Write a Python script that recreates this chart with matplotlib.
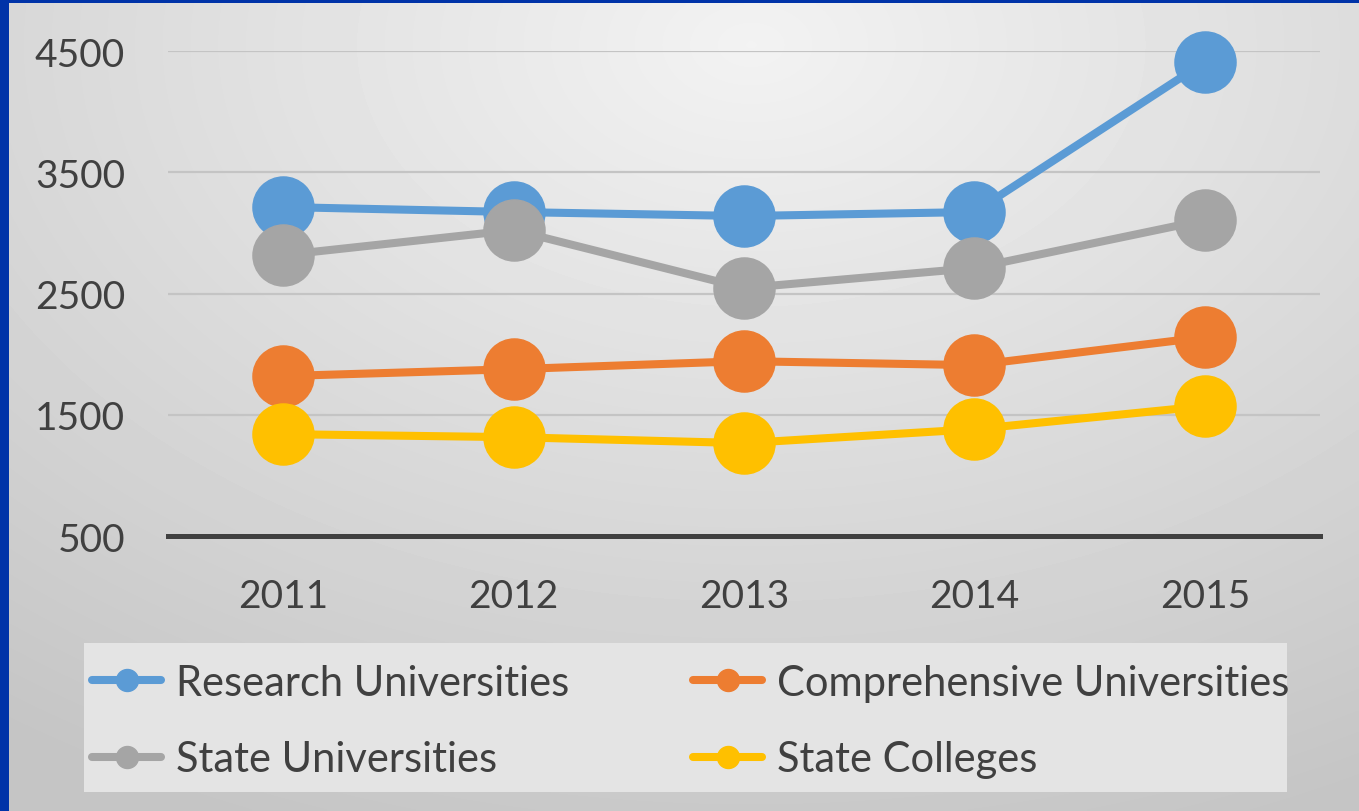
import numpy as np
import matplotlib
matplotlib.use("Agg")
import matplotlib.pyplot as plt
from matplotlib.patches import Rectangle

years = ["2011", "2012", "2013", "2014", "2015"]
research = [3213, 3172, 3139, 3172, 4409]
comprehensive = [1819, 1876, 1942, 1909, 2140]
state_univ = [2817, 3023, 2545, 2710, 3106]
state_colleges = [1340, 1315, 1266, 1381, 1571]

series = [
    ("Research Universities", research, "#5B9BD5"),
    ("Comprehensive Universities", comprehensive, "#ED7D31"),
    ("State Universities", state_univ, "#A5A5A5"),
    ("State Colleges", state_colleges, "#FFC000"),
]

plt.rcParams['font.family'] = ['Lato', 'DejaVu Sans']

W, H = 1359, 812
fig = plt.figure(figsize=(W / 100, H / 100), dpi=100, facecolor="#0033A8")

# gradient background
bg = fig.add_axes([9 / W, 0, 1 - 9 / W, 1 - 4 / H], zorder=-5)
gx, gy = np.meshgrid(np.linspace(0, 1, 400), np.linspace(0, 1, 240))
d = np.sqrt(((gx - 0.55) * 1.0) ** 2 + ((gy - 0.05) * 0.9) ** 2)
shade = 0.95 - 0.18 * np.clip(d / 0.95, 0, 1)
bg.imshow(shade, cmap="gray", vmin=0, vmax=1, aspect="auto",
          extent=[0, 1, 1, 0], interpolation="bilinear")
bg.axis("off")

# legend box
fig.patches.append(Rectangle((84 / W, 1 - 793 / H), (1287 - 84) / W, (793 - 644) / H,
                             transform=fig.transFigure, facecolor="#e4e4e4",
                             edgecolor="none", zorder=-4))

ax = fig.add_axes([168 / W, 1 - 537 / H, (1320 - 168) / W, (537 - 52) / H])
ax.patch.set_alpha(0)

x = np.arange(len(years))
lines = {}
for name, vals, col in series:
    ln, = ax.plot(x, vals, color=col, lw=5.8, marker="o", markersize=44,
                  label=name, clip_on=False, solid_capstyle="round", zorder=3)
    lines[name] = ln

ax.set_xlim(-0.5, 4.5)
ax.set_ylim(500, 4500)
ax.set_yticks([500, 1500, 2500, 3500, 4500])
ax.set_xticks(x)
ax.set_xticklabels(years)
ax.yaxis.grid(True, color="#c4c4c4", lw=1.6)
ax.set_axisbelow(True)
for s in ["top", "right", "left"]:
    ax.spines[s].set_visible(False)
ax.spines["bottom"].set_color("#404040")
ax.spines["bottom"].set_linewidth(3.6)
ax.spines["bottom"].set_zorder(2)
ax.tick_params(axis="both", length=0, labelsize=28, labelcolor="#404040")
ax.tick_params(axis="y", pad=31)
ax.tick_params(axis="x", pad=30)

# row-major order like the original legend
order = ["Research Universities", "State Universities",
         "Comprehensive Universities", "State Colleges"]
leg = ax.legend([lines[n] for n in order], order, loc="center left", ncol=2,
                bbox_to_anchor=(92 / W, 1 - 722 / H),
                bbox_transform=fig.transFigure, fontsize=30, markerscale=0.36,
                handlelength=1.66, handletextpad=0.35, labelspacing=0.93,
                columnspacing=2.98, borderpad=0, borderaxespad=0, frameon=False)
for t in leg.get_texts():
    t.set_color("#404040")

fig.savefig("out.png", dpi=100, facecolor=fig.get_facecolor())
